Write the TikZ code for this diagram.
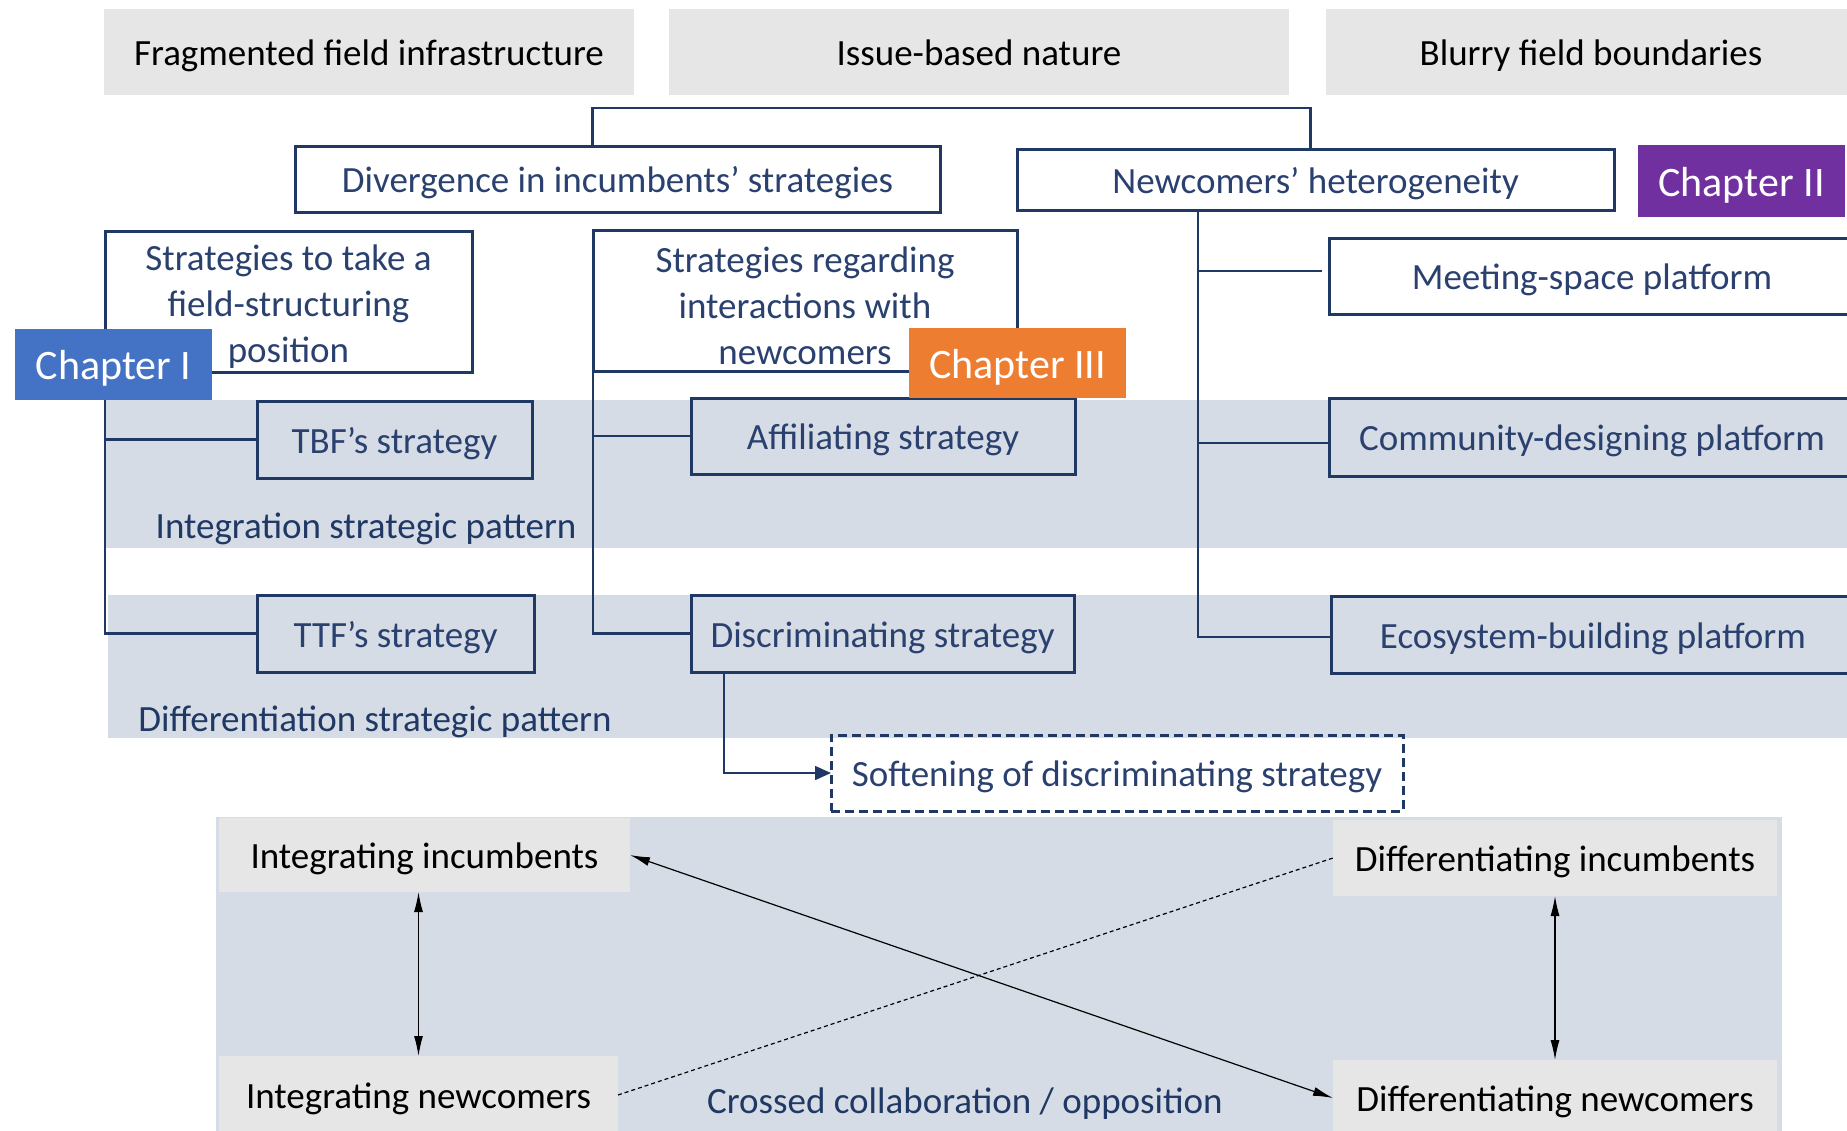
\documentclass[tikz,border=0pt]{standalone}
\usepackage{fontspec}
\setmainfont{Carlito}
\usetikzlibrary{arrows.meta,calc}
\definecolor{navy}{HTML}{1F3864}
\definecolor{navytext}{HTML}{2A4170}
\definecolor{greybox}{HTML}{E7E6E6}
\definecolor{bandc}{HTML}{D6DCE5}
\definecolor{chI}{HTML}{4472C4}
\definecolor{chII}{HTML}{7030A0}
\definecolor{chIII}{HTML}{ED7D31}
\begin{document}
\begin{tikzpicture}[x=1pt,y=-1pt,
 every node/.style={inner sep=0pt, outer sep=0pt, font=\fontsize{37}{46}\selectfont, text height=35pt, text depth=8pt},
 freetext/.style={text height=, text depth=},
 topbox/.style={fill=greybox, text=black},
 sbox/.style={draw=navy, line width=3pt, text=navytext, align=center},
 wbox/.style={sbox, fill=white},
 chap/.style={text=white, font=\fontsize{42}{46}\selectfont, text height=39pt, text depth=8.5pt},
 plabel/.style={freetext, text=navy},
 conn/.style={draw=navy, line width=2.5pt},
 thinconn/.style={draw=navy, line width=1.5pt, -{Triangle[length=16pt,width=14pt]}},
 dbl/.style={draw=black, line width=1.2pt, {Latex[length=20pt,width=9pt]}-{Latex[length=20pt,width=9pt]}},
 dotl/.style={draw=black, line width=1.2pt, dash pattern=on 4pt off 3pt}
]
\useasboundingbox (0,0) rectangle (1847,1130);
% bands
\fill[bandc] (106,400) rectangle (1860,548);
\fill[bandc] (108,595) rectangle (1860,738);
\fill[bandc] (216,817) rectangle (1782,1140);
% top row
\node[topbox, minimum width=530pt, minimum height=86pt] (frag) at (369,52) {Fragmented field infrastructure};
\node[topbox, minimum width=620pt, minimum height=86pt] (issue) at (979,52) {Issue-based nature};
\node[topbox, minimum width=530pt, minimum height=86pt] (blurry) at (1591,52) {Blurry field boundaries};
% second row
\node[wbox, minimum width=645pt, minimum height=66pt] (div) at (617.5,179) {Divergence in incumbents’ strategies};
\node[wbox, minimum width=597pt, minimum height=61pt] (new) at (1315.5,180) {Newcomers’ heterogeneity};
% third row
\node[wbox, freetext, minimum width=367pt, minimum height=141pt] (strat1) at (288.5,302) {\rule{0pt}{35pt}Strategies to take a\\field-structuring\\position};
\node[wbox, freetext, minimum width=424pt, minimum height=141pt] (strat2) at (805,301) {\rule{0pt}{35pt}Strategies regarding\\interactions with\\newcomers};
\node[wbox, minimum width=526pt, minimum height=76pt] (meet) at (1592,276) {Meeting-space platform};
% band rows
\node[sbox, minimum width=275pt, minimum height=77pt] (tbf) at (394.5,439.5) {TBF’s strategy};
\node[sbox, minimum width=384pt, minimum height=76pt] (affil) at (883,436) {Affiliating strategy};
\node[sbox, minimum width=526pt, minimum height=78pt] (comm) at (1592,437) {Community-designing platform};
\node[plabel] (intpat) at (366,529) {Integration strategic pattern};
\node[sbox, minimum width=277pt, minimum height=77pt] (ttf) at (395.5,633.5) {TTF’s strategy};
\node[sbox, minimum width=383pt, minimum height=77pt] (disc) at (882.5,633.5) {Discriminating strategy};
\node[sbox, minimum width=524pt, minimum height=77pt] (eco) at (1593,634.5) {Ecosystem-building platform};
\node[plabel] (difpat) at (375,722) {Differentiation strategic pattern};
% softening
\node[sbox, dash pattern=on 9pt off 5pt, minimum width=572pt, minimum height=76pt] (soft) at (1117,773) {Softening of discriminating strategy};
% connectors
\draw[conn] ([xshift=-25pt]div.north) -- ++(0,-38) -| ([xshift=-5pt]new.north);
\draw[conn] (strat1.south west) -- (strat1.south west |- ttf.west) -- (ttf.west);
\draw[conn] (strat1.south west |- tbf.west) -- (tbf.west);
\draw[conn] (strat2.south west) -- (strat2.south west |- disc.west) -- (disc.west);
\draw[conn] (strat2.south west |- affil.west) -- (affil.west);
\coordinate (rt) at ([xshift=-117.5pt]new.south);
\coordinate (mw) at ([xshift=-7pt,yshift=5pt]meet.west);
\coordinate (cw) at ([yshift=-6pt]comm.west);
\coordinate (ew) at ([yshift=-2.5pt]eco.west);
\draw[conn] (rt) |- (ew);
\draw[conn] (rt |- mw) -- (mw);
\draw[conn] (rt |- cw) -- (cw);
\draw[thinconn] ([xshift=33pt]disc.south west) |- (soft.west);
% chapters
\node[chap, fill=chI, minimum width=197pt, minimum height=71pt] (c1) at (113.5,364.5) {Chapter I};
\node[chap, fill=chII, minimum width=207pt, minimum height=72pt] (c2) at (1741.5,181) {Chapter II};
\node[chap, fill=chIII, minimum width=217pt, minimum height=70pt] (c3) at (1017.5,363) {Chapter III};
% bottom
\node[topbox, minimum width=411pt, minimum height=74pt] (ii) at (424.5,855) {Integrating incumbents};
\node[topbox, minimum width=444pt, minimum height=76pt] (di) at (1555,858) {Differentiating incumbents};
\node[topbox, minimum width=399pt, minimum height=78pt] (in) at (418.5,1095) {Integrating newcomers};
\node[topbox, minimum width=444pt, minimum height=76pt] (dn) at (1555,1098) {Differentiating newcomers};
\node[plabel] (crossed) at (965,1104) {Crossed collaboration / opposition};
\draw[dbl] (in.north |- ii.south) -- (in.north);
\draw[dbl] (di.south) -- (dn.north);
\draw[dbl] (ii.east) -- (dn.west);
\draw[dotl] (in.east) -- (di.west);
\end{tikzpicture}
\end{document}
